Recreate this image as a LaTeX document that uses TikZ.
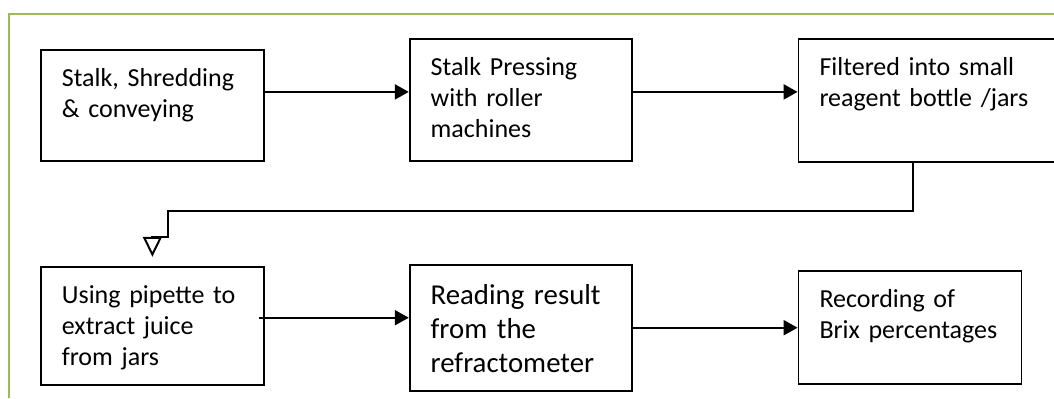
\documentclass[tikz,border=0pt]{standalone}
\usepackage{fontspec}
\setmainfont{Carlito}
\usetikzlibrary{arrows.meta,positioning}
\definecolor{framegreen}{RGB}{155,187,89}

\begin{document}
\begin{tikzpicture}[x=0.5pt,y=-0.5pt,line width=1pt,>={Triangle[length=7pt,width=7.5pt]}]
\tikzstyle{box}=[draw,line width=0.9pt,align=left,anchor=north west,inner xsep=10.5pt,inner ysep=0pt,text height=18.5pt,font=\fontsize{13pt}{15.5pt}\selectfont]
\tikzstyle{frame}=[draw=framegreen,line width=0.6pt]
\useasboundingbox (0,0) rectangle (1054,398);
\draw[frame] (9,398) |- (1054,14);

% top row
\node[box,text width=90.5pt,text depth=37pt] (A) at (40,49) {Stalk, Shredding\\\& conveying};
\node[box,text width=90pt,text depth=42.5pt] (B) [right=72pt of A.north east,anchor=north west,yshift=5.5pt] {Stalk Pressing\\with roller\\machines};
\node[box,text width=107pt,text depth=43pt] (C) [right=82.5pt of B.north east,anchor=north west] {Filtered into small\\reagent bottle /jars};

% bottom row
\node[box,text width=90.5pt,text depth=40.5pt] (D) [below=52pt of A.south west,anchor=north west] {Using pipette to\\extract juice\\from jars};
\node[box,text width=90pt,text height=20pt,text depth=43pt,font=\fontsize{14.4pt}{17pt}\selectfont] (E) [right=72pt of D.north east,anchor=north west,yshift=1pt] {Reading result\\from the\\refractometer};
\node[box,text width=90.5pt,text depth=38pt] (F) [right=82.5pt of E.north east,anchor=north west,yshift=-3pt] {Recording of\\Brix percentages};

\coordinate (bend) at (168,211);

\draw[->] ([yshift=6.75pt]A.east) -- ([yshift=6.75pt]A.east -| B.west);
\draw[->] ([yshift=4pt]B.east) -- ([yshift=4pt]B.east -| C.west);
\draw[-{Triangle[open,length=10pt,width=9.5pt]}] ([xshift=-7pt]C.south) |- (bend) |- ([yshift=14.5pt]D.north) -- ([yshift=4.5pt]D.north);
\draw[->] ([xshift=-3pt,yshift=4pt]D.east) -- ([yshift=4pt]D.east -| E.west);
\draw[->] (E.east) -- (E.east -| F.west);
\end{tikzpicture}
\end{document}
